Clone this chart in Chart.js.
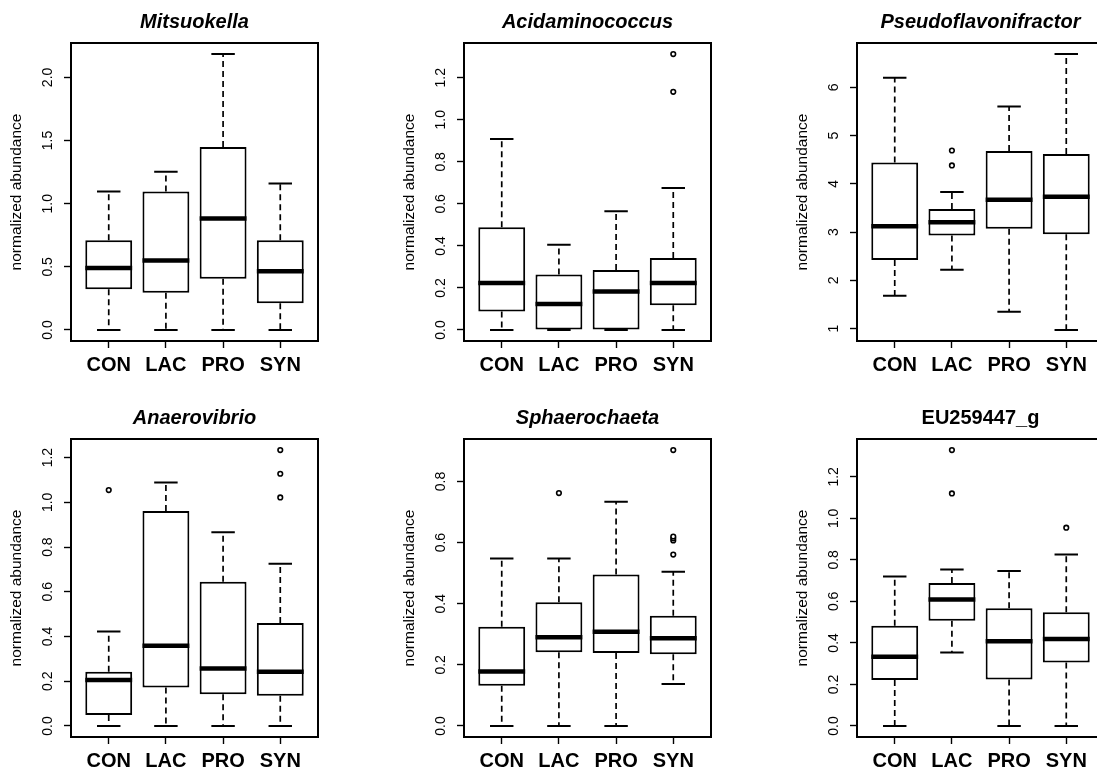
<!DOCTYPE html>
<html>
<head>
<meta charset="utf-8">
<script src="https://cdn.jsdelivr.net/npm/chart.js@4.4.0/dist/chart.umd.min.js"></script>
<style>
    html, body { margin: 0; padding: 0; background: #fff; overflow: hidden; width: 1097px; height: 774px; }
    canvas { position: absolute; }
</style>
</head>
<body>
<canvas id="c1" width="348" height="385" style="left:0px;top:0px"></canvas>
<canvas id="c2" width="348" height="385" style="left:393px;top:0px"></canvas>
<canvas id="c3" width="348" height="385" style="left:786px;top:0px"></canvas>
<canvas id="c4" width="348" height="385" style="left:0px;top:396px"></canvas>
<canvas id="c5" width="348" height="385" style="left:393px;top:396px"></canvas>
<canvas id="c6" width="348" height="385" style="left:786px;top:396px"></canvas>
<script>
const groups = ["CON", "LAC", "PRO", "SYN"];

// Mitsuokella
const mitsLow = [0, 0, 0, 0];
const mitsQ1 = [0.323, 0.294, 0.405, 0.212];
const mitsMed = [0.49, 0.551, 0.882, 0.464];
const mitsQ3 = [0.71, 1.097, 1.449, 0.71];
const mitsHigh = [1.097, 1.253, 2.185, 1.16];
const mitsOut = [[], [], [], []];
const mitsTicks = [0, 0.5, 1, 1.5, 2];

// Acidaminococcus
const acidLow = [0, 0, 0, 0];
const acidQ1 = [0.088, 0, 0, 0.118];
const acidMed = [0.224, 0.124, 0.183, 0.224];
const acidQ3 = [0.489, 0.264, 0.285, 0.342];
const acidHigh = [0.909, 0.406, 0.565, 0.676];
const acidOut = [[], [], [], [1.133, 1.313]];
const acidTicks = [0, 0.2, 0.4, 0.6, 0.8, 1.0, 1.2];

// Pseudoflavonifractor
const pseuLow = [1.68, 2.22, 1.35, 0.97];
const pseuQ1 = [2.42, 2.93, 3.07, 2.955];
const pseuMed = [3.12, 3.205, 3.67, 3.73];
const pseuQ3 = [4.44, 3.48, 4.68, 4.62];
const pseuHigh = [6.2, 3.83, 5.6, 6.69];
const pseuOut = [[], [4.38, 4.69], [], []];
const pseuTicks = [1, 2, 3, 4, 5, 6];

// Anaerovibrio
const anaeLow = [0, 0, 0, 0];
const anaeQ1 = [0.049, 0.172, 0.142, 0.135];
const anaeMed = [0.206, 0.359, 0.257, 0.242];
const anaeQ3 = [0.242, 0.961, 0.645, 0.461];
const anaeHigh = [0.423, 1.089, 0.866, 0.726];
const anaeOut = [[1.055], [], [], [1.022, 1.128, 1.234]];
const anaeTicks = [0, 0.2, 0.4, 0.6, 0.8, 1.0, 1.2];

// Sphaerochaeta
const sphaLow = [0, 0, 0, 0.137];
const sphaQ1 = [0.132, 0.241, 0.239, 0.235];
const sphaMed = [0.178, 0.29, 0.308, 0.287];
const sphaQ3 = [0.325, 0.405, 0.496, 0.361];
const sphaHigh = [0.548, 0.548, 0.734, 0.505];
const sphaOut = [[], [0.762], [], [0.561, 0.607, 0.614, 0.62, 0.903]];
const sphaTicks = [0, 0.2, 0.4, 0.6, 0.8];

// EU259447_g
const euLow = [0, 0.354, 0, 0];
const euQ1 = [0.221, 0.507, 0.224, 0.306];
const euMed = [0.333, 0.609, 0.408, 0.419];
const euQ3 = [0.483, 0.689, 0.567, 0.548];
const euHigh = [0.72, 0.754, 0.746, 0.826];
const euOut = [[], [1.12, 1.329], [], [0.955]];
const euTicks = [0, 0.2, 0.4, 0.6, 0.8, 1.0, 1.2];

Chart.defaults.font.family = "'Liberation Sans', Arial, Helvetica, sans-serif";
Chart.defaults.color = "#000";

function boxplot(id, title, italic, low, q1, med, q3, high, outs, ticks, dec) {
    let boxes = groups.map((g, i) => ({ x: i + 1, y: [q1[i], q3[i]] }));
    let points = [];
    outs.forEach((arr, i) => arr.forEach(v => points.push({ x: i + 1, y: v })));

    // R style range: data range stretched by 4% each side
    let all = low.concat(high, ...outs);
    let lo = Math.min(...all), hi = Math.max(...all);
    let pad = (hi - lo) * 0.04;

    // whiskers, staples, medians and the frame
    let parts = {
        id: "parts",
        afterDatasetsDraw(chart) {
            let ctx = chart.ctx, x = chart.scales.x, y = chart.scales.y;
            let bars = chart.getDatasetMeta(0).data;
            ctx.save();
            ctx.strokeStyle = "#000";
            groups.forEach((g, i) => {
                let cx = x.getPixelForValue(i + 1);
                let half = bars[i].width / 2;
                ctx.lineWidth = 1.7;
                ctx.setLineDash([6, 4]);
                ctx.beginPath();
                ctx.moveTo(cx, y.getPixelForValue(q3[i]));
                ctx.lineTo(cx, y.getPixelForValue(high[i]));
                ctx.moveTo(cx, y.getPixelForValue(q1[i]));
                ctx.lineTo(cx, y.getPixelForValue(low[i]));
                ctx.stroke();
                ctx.setLineDash([]);
                ctx.lineWidth = 2;
                ctx.beginPath();
                [high[i], low[i]].forEach(v => {
                    ctx.moveTo(cx - half / 2, y.getPixelForValue(v));
                    ctx.lineTo(cx + half / 2, y.getPixelForValue(v));
                });
                ctx.stroke();
                ctx.lineWidth = 4.5;
                ctx.beginPath();
                ctx.moveTo(cx - half, y.getPixelForValue(med[i]));
                ctx.lineTo(cx + half, y.getPixelForValue(med[i]));
                ctx.stroke();
            });
            let a = chart.chartArea;
            ctx.lineWidth = 2;
            ctx.strokeRect(a.left, a.top, a.right - a.left, a.bottom - a.top);
            ctx.restore();
        }
    };

    return new Chart(document.getElementById(id), {
        type: "bar",
        data: {
            datasets: [{
                type: "bar",
                data: boxes,
                backgroundColor: "#fff",
                borderColor: "#000",
                borderWidth: 2,
                borderSkipped: false,
                categoryPercentage: 0.82,
                barPercentage: 1.0
            }, {
                type: "scatter",
                data: points,
                pointStyle: "circle",
                pointRadius: 2.3,
                borderColor: "#000",
                borderWidth: 1.6,
                backgroundColor: "#fff"
            }]
        },
        options: {
            responsive: false,
            animation: false,
            layout: { padding: { left: 0, right: 30, top: 0, bottom: 0 } },
            plugins: {
                legend: { display: false },
                tooltip: { enabled: false },
                title: {
                    display: true,
                    text: title,
                    fullSize: false,
                    color: "#000",
                    font: { size: 20, weight: "bold", style: italic ? "italic" : "normal" },
                    padding: { top: 10, bottom: 9 }
                }
            },
            scales: {
                x: {
                    type: "linear",
                    min: 0.34,
                    max: 4.66,
                    offset: false,
                    afterBuildTicks: s => { s.ticks = groups.map((g, i) => ({ value: i + 1 })); },
                    afterFit: s => { s.height = 44; },
                    border: { display: false },
                    grid: { offset: false, drawOnChartArea: false, drawTicks: true, tickLength: 7, tickColor: "#000", tickWidth: 1.4 },
                    ticks: {
                        callback: v => groups[v - 1],
                        font: { size: 20, weight: "bold" },
                        color: "#000",
                        padding: 5,
                        maxRotation: 0,
                        autoSkip: false
                    }
                },
                y: {
                    type: "linear",
                    min: lo - pad,
                    max: hi + pad,
                    afterBuildTicks: s => { s.ticks = ticks.map(v => ({ value: v })); },
                    afterFit: s => { s.width = 71; },
                    border: { display: false },
                    grid: { drawOnChartArea: false, drawTicks: true, tickLength: 7, tickColor: "#000", tickWidth: 1.4 },
                    ticks: {
                        callback: v => v.toFixed(dec),
                        font: { size: 14 },
                        color: "#000",
                        minRotation: 90,
                        maxRotation: 90,
                        crossAlign: "center",
                        padding: dec ? 6 : 12
                    },
                    title: {
                        display: true,
                        text: "normalized abundance",
                        color: "#000",
                        font: { size: 15.5 },
                        padding: { top: 7, bottom: 0 }
                    }
                }
            }
        },
        plugins: [parts]
    });
}

boxplot("c1", "Mitsuokella", true, mitsLow, mitsQ1, mitsMed, mitsQ3, mitsHigh, mitsOut, mitsTicks, 1);
boxplot("c2", "Acidaminococcus", true, acidLow, acidQ1, acidMed, acidQ3, acidHigh, acidOut, acidTicks, 1);
boxplot("c3", "Pseudoflavonifractor", true, pseuLow, pseuQ1, pseuMed, pseuQ3, pseuHigh, pseuOut, pseuTicks, 0);
boxplot("c4", "Anaerovibrio", true, anaeLow, anaeQ1, anaeMed, anaeQ3, anaeHigh, anaeOut, anaeTicks, 1);
boxplot("c5", "Sphaerochaeta", true, sphaLow, sphaQ1, sphaMed, sphaQ3, sphaHigh, sphaOut, sphaTicks, 1);
boxplot("c6", "EU259447_g", false, euLow, euQ1, euMed, euQ3, euHigh, euOut, euTicks, 1);
</script>
</body>
</html>
